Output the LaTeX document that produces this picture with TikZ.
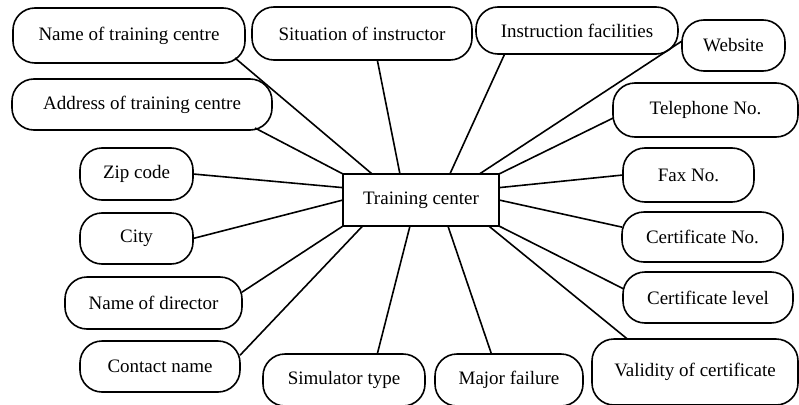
\documentclass[tikz,border=0pt]{standalone}
\usepackage{fontspec}
\setmainfont{Liberation Serif}

\tikzset{
	item/.style={draw, rounded corners=22pt, line width=1.6pt, outer sep=0pt, inner sep=0pt, minimum height=52pt, font=\fontsize{19}{22}\selectfont},
	hub/.style={draw, line width=1.6pt, outer sep=0pt, minimum width=156pt, minimum height=52pt, font=\fontsize{19}{22}\selectfont},
	link/.style={line width=1.6pt}
}

\begin{document}
\begin{tikzpicture}[x=1pt, y=-1pt]
		\useasboundingbox (0,0) rectangle (799,404);
		% centre
		\node[hub] (tc) at (421,200) {Training center};
		% top row
		\node[item, minimum width=232pt, minimum height=55pt] (name) at (129,35.5) {Name of training centre};
		\node[item, minimum width=220pt, minimum height=53pt] (situation) at (362,33.5) {Situation of instructor};
		\node[item, minimum width=202pt, minimum height=47pt] (facilities) at (577,30.5) {Instruction facilities};
		\node[item, minimum width=103pt, minimum height=51pt] (website) at (733.5,45.5) {Website};
		% left side
		\node[item, minimum width=260pt, minimum height=51pt] (address) at (142,104.5) {Address of training centre};
		\node[item, minimum width=113pt] (zip) at (136.5,174) {Zip code};
		\node[item, minimum width=113pt, minimum height=51pt] (city) at (136.5,238.5) {City};
		\node[item, minimum width=177pt] (director) at (153.5,303) {Name of director};
		\node[item, minimum width=160pt, minimum height=51pt] (contact) at (160,366.5) {Contact name};
		% bottom row
		\node[item, minimum width=162pt] (simulator) at (344,380) {Simulator type};
		\node[item, minimum width=148pt] (failure) at (509,380) {Major failure};
		\node[item, minimum width=206pt, minimum height=66pt] (validity) at (695,372) {Validity of certificate};
		% right side
		\node[item, minimum width=185pt, minimum height=54pt] (phone) at (705.5,110) {Telephone No.};
		\node[item, minimum width=131pt, minimum height=54pt] (fax) at (688.5,175) {Fax No.};
		\node[item, minimum width=161pt, minimum height=50pt] (certno) at (702.5,237) {Certificate No.};
		\node[item, minimum width=170pt, minimum height=51pt] (level) at (708,297.5) {Certificate level};
		% connectors
		\draw[link] (tc.152) -- ([shift={(-10,-5)}]name.south east);
		\draw[link] (tc.129) -- (situation.-60);
		\draw[link] (tc.42) -- (facilities.-162);
		\draw[link] (tc.24) -- (website.175);
		\draw[link] (tc.north east) -- (phone.185);
		\draw[link] (tc.north west) -- ([shift={(-17,-2)}]address.south east);
		\draw[link] (tc.171) -- (zip.east);
		\draw[link] (tc.west) -- (city.east);
		\draw[link] (tc.south west) -- (director.7);
		\draw[link] (tc.204) -- (contact.8);
		\draw[link] (tc.247) -- (simulator.38);
		\draw[link] (tc.-44) -- (failure.124);
		\draw[link] (tc.-21.5) -- (validity.154);
		\draw[link] (tc.south east) -- (level.174);
		\draw[link] (tc.9) -- (fax.west);
		\draw[link] (tc.east) -- (certno.173);
	\end{tikzpicture}
\end{document}
